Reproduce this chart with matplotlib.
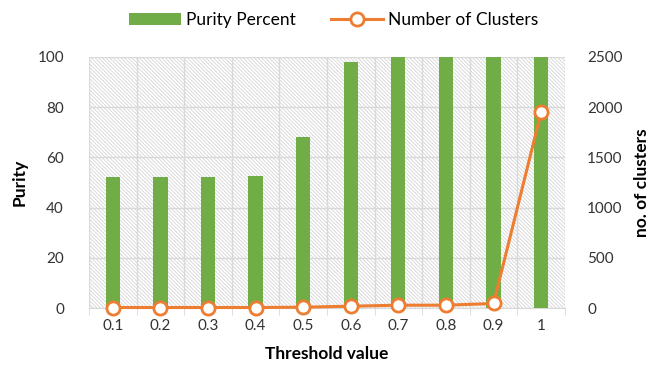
import matplotlib.pyplot as plt
import numpy as np
from matplotlib.patches import Rectangle

plt.rcParams['font.family'] = ['Lato', 'DejaVu Sans']
plt.rcParams['hatch.linewidth'] = 0.6

thresholds = ['0.1', '0.2', '0.3', '0.4', '0.5', '0.6', '0.7', '0.8', '0.9', '1']
purity = [52, 52, 52, 52.5, 68, 98, 100, 100, 100, 100]
clusters = [5, 5, 5, 5, 8, 18, 28, 28, 45, 1950]

green = '#70AD47'
orange = '#ED7D31'
grid = '#d9d9d9'

fig = plt.figure(figsize=(6.67, 3.77), dpi=100)
ax = fig.add_axes([0.1334, 0.183, 0.7136, 0.666])
x = np.arange(len(thresholds))

# hatched plot background
bg = Rectangle((0, 0), 1, 1, transform=ax.transAxes, facecolor='white',
               edgecolor='#d4d4d4', hatch='\\' * 9, linewidth=0, zorder=0)
ax.add_patch(bg)

ax.bar(x, purity, width=0.3, color=green, zorder=3, label='Purity Percent')
ax.set_xlim(-0.5, len(x) - 0.5)
ax.set_ylim(0, 100)
ax.set_yticks(range(0, 101, 20))
ax.set_xticks(x)
ax.set_xticklabels(thresholds)
ax.set_xticks(np.arange(-0.5, len(x), 1), minor=True)
ax.tick_params(axis='x', which='major', length=0, pad=8, labelsize=11, colors='#333333')
ax.tick_params(axis='x', which='minor', length=5, color=grid)
ax.tick_params(axis='y', length=0, pad=18, labelsize=11, colors='#333333')
ax.grid(axis='y', color=grid, linewidth=1, zorder=1)
ax.grid(axis='x', which='minor', color=grid, linewidth=1, zorder=1)
for s in ['top', 'left', 'right']:
    ax.spines[s].set_visible(False)
ax.spines['bottom'].set_color(grid)
ax.set_xlabel('Threshold value', fontsize=12.5, fontweight='bold', labelpad=9)
ax.set_ylabel('Purity', fontsize=12.5, fontweight='bold', labelpad=7)

ax2 = ax.twinx()
ax2.plot(x, clusters, color=orange, linewidth=2.2, marker='o', markersize=9.5,
         markerfacecolor='white', markeredgecolor=orange, markeredgewidth=2,
         zorder=4, label='Number of Clusters', clip_on=False)
ax2.set_ylim(0, 2500)
ax2.set_yticks(range(0, 2501, 500))
ax2.tick_params(axis='y', length=0, pad=16, labelsize=11, colors='#333333')
for s in ['top', 'left', 'right', 'bottom']:
    ax2.spines[s].set_visible(False)
ax2.set_ylabel('no. of clusters', fontsize=12.5, fontweight='bold', labelpad=8)

h1, l1 = ax.get_legend_handles_labels()
h2, l2 = ax2.get_legend_handles_labels()
fig.legend(h1 + h2, l1 + l2, loc='upper center', bbox_to_anchor=(0.5, 1.01),
           ncol=2, frameon=False, fontsize=12.5, handlelength=3, columnspacing=2,
           handletextpad=0.3)

fig.savefig('out.png', dpi=100)
